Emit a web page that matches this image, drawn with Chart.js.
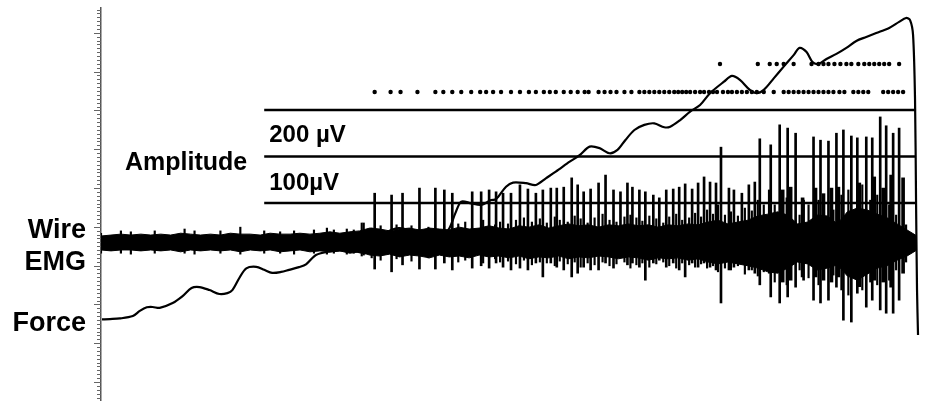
<!DOCTYPE html>
<html><head><meta charset="utf-8">
<script src="https://cdn.jsdelivr.net/npm/chart.js@4"></script>
<style>html,body{margin:0;padding:0;background:#fff}#wrap{position:relative;width:927px;height:407px}</style>
</head><body><div id="wrap"><canvas id="c" width="927" height="407"></canvas></div>
<script>
// ---- DATA (time in s, EMG in µV, force in %MVC) ----
const noiseTimes = [0.0,0.1,0.2,0.3,0.4,0.5,0.6,0.7,0.8,0.9,1.0,1.1,1.2,1.3,1.4,1.5,1.6,1.7,1.8,1.9,2.0,2.1,2.2,2.3,2.4,2.5,2.6,2.7,2.8,2.9,3.0,3.1,3.2,3.3,3.4,3.5,3.6,3.7,3.8,3.9,4.0,4.1,4.2,4.3,4.4,4.5,4.6,4.7,4.8,4.9,5.0,5.1,5.2,5.3,5.4,5.5,5.6,5.7,5.8,5.9,6.0,6.1,6.2,6.3,6.4,6.5,6.6,6.7,6.8,6.9,7.0,7.1,7.2,7.3,7.4,7.5,7.6,7.7,7.8,7.9,8.0,8.1,8.2];
const noiseTop = [29,31,33,31,33,31,33,31,35,33,31,33,31,35,33,33,31,35,33,33,35,33,35,38,35,38,40,46,44,40,44,46,42,46,44,42,48,44,46,51,46,44,51,48,53,46,51,55,51,53,48,53,51,55,51,53,48,53,51,55,53,59,63,55,59,63,72,76,81,74,55,59,74,72,55,81,89,85,76,68,55,42,29];
const noiseBottom = [-1,-3,-1,-1,-3,-1,-3,-1,-5,-1,-3,-1,-3,-1,-5,-1,-3,-1,-5,-3,-1,-5,-3,-5,-3,-8,-5,-12,-14,-10,-16,-12,-14,-18,-12,-16,-14,-18,-12,-16,-14,-18,-14,-20,-16,-18,-14,-20,-16,-18,-14,-16,-20,-16,-18,-23,-18,-20,-18,-23,-20,-27,-31,-27,-31,-35,-40,-48,-51,-40,-27,-31,-44,-40,-33,-57,-66,-53,-40,-35,-23,-14,-1];

// small background noise spikes (early, low force)
const smallTimes = [0.00,0.20,0.30,0.54,0.84,0.94,1.20,1.40,1.64,1.80,1.94,2.14,2.27,2.34,2.47,2.54,2.64];
const smallLow = [-8,-8,-10,-8,-8,-10,-8,-10,-8,-8,-10,-8,-10,-8,-10,-8,-12];
const smallHigh = [35,40,38,40,44,40,40,48,40,38,40,42,46,42,44,42,57];

// interference spikes (mid and late)
const texTimes = [2.62,2.72,2.81,2.97,3.12,3.29,3.59,3.66,3.84,3.96,4.01,4.09,4.17,4.25,4.33,4.41,4.48,4.56,4.61,4.69,4.76,4.82,4.89,4.96,5.04,5.11,5.18,5.26,5.32,5.38,5.44,5.51,5.58,5.65,5.71,5.78,5.84,5.91,5.97,6.03,6.09,6.15,6.20,6.27,6.33,6.40,6.47,6.54,6.60,6.66,6.77,6.89,7.02,7.11,7.21,7.36,7.44,7.51,7.65,7.73,7.80,7.92,7.99,8.09];
const texLow = [-14,-18,-23,-20,-25,-18,-27,-23,-29,-20,-27,-25,-31,-23,-33,-27,-29,-35,-25,-31,-27,-38,-29,-33,-27,-35,-31,-27,-40,-33,-29,-38,-31,-27,-35,-40,-29,-33,-38,-31,-40,-35,-48,-40,-44,-35,-53,-44,-57,-48,-70,-76,-44,-61,-76,-55,-87,-98,-87,-70,-76,-66,-44,-27];
const texHigh = [57,46,51,53,51,48,55,59,63,53,59,55,63,68,59,66,57,70,63,59,72,66,57,68,76,63,59,70,74,68,61,72,66,57,70,76,63,68,78,70,85,76,96,74,81,72,89,83,106,96,96,111,74,96,106,85,117,128,139,106,117,96,74,53];

// single motor-unit spikes: [time, low µV, high µV]
const spikeTimes = [2.75,2.92,3.03,3.20,3.36,3.45,3.53,3.73,3.82,3.90,3.97,4.04,4.12,4.21,4.29,4.37,4.44,4.52,4.58,4.65,4.73,4.79,4.85,4.92,5.00,5.07,5.15,5.22,5.29,5.34,5.41,5.47,5.55,5.61,5.68,5.75,5.81,5.87,5.94,6.00,6.06,6.12,6.18,6.23,6.31,6.36,6.44,6.51,6.57,6.62,6.73,6.82,6.90,6.98,7.06,7.16,7.23,7.31,7.39,7.46,7.54,7.60,7.69,7.75,7.83,7.89,7.96,8.02];
const spikeLow = [-42,-48,-33,-42,-42,-29,-44,-40,-35,-40,-29,-38,-44,-40,-44,-29,-59,-29,-38,-44,-59,-51,-38,-44,-44,-29,-40,-16,-33,-29,-38,-66,-29,-23,-38,-29,-44,-59,-29,-38,-29,-38,-44,-115,-44,-38,-29,-44,-51,-76,-102,-115,-102,-81,-66,-109,-115,-109,-81,-152,-156,-94,-124,-109,-130,-137,-137,-109];
const spikeHigh = [121,117,121,132,132,128,121,124,124,128,124,121,121,139,130,121,128,132,132,134,154,139,124,130,143,160,128,124,143,134,128,124,117,111,128,130,134,141,130,143,156,145,143,220,132,128,121,139,145,238,225,268,261,250,106,242,235,233,250,257,244,240,242,240,285,266,250,261];

// burst spikes late in the contraction
const burstTimes = [6.72,6.85,6.93,7.05,7.18,7.26,7.34,7.41,7.62,7.77,7.86,7.94,8.06];
const burstLow = [-51,-70,-66,-59,-59,-66,-70,-59,-80,-66,-70,-81,-51];
const burstHigh = [128,128,134,111,132,120,132,134,143,156,132,160,154];

// force
const forceTimes = [0.01,0.09,0.19,0.32,0.39,0.46,0.52,0.59,0.72,0.82,0.91,0.99,1.09,1.19,1.27,1.32,1.39,1.46,1.56,1.64,1.72,1.81,1.89,1.99,2.06,2.16,2.29,2.49,2.66,2.75,2.86,2.99,3.09,3.26,3.42,3.49,3.56,3.62,3.72,3.82,3.92,3.97,4.07,4.14,4.27,4.37,4.47,4.57,4.71,4.81,4.91,5.01,5.11,5.19,5.27,5.36,5.46,5.56,5.66,5.72,5.82,5.92,6.02,6.12,6.26,6.34,6.42,6.52,6.59,6.66,6.76,6.86,6.96,7.02,7.09,7.15,7.21,7.29,7.39,7.49,7.59,7.69,7.79,7.92,8.02,8.09,8.13,8.16,8.18,8.19,8.20,8.21];
const forceValues = [0.2,0.3,0.5,1.3,3.0,4.2,4.3,4.0,5.6,7.9,10.6,10.9,9.9,8.6,8.9,9.9,13.9,17.1,17.6,16.6,15.6,15.9,16.6,17.5,18.4,21.5,22.6,23.2,22.1,23.8,28.7,30.4,29.8,28.9,29.2,29.8,35.3,39.2,38.6,38.1,39.7,40.0,44.1,45.5,45.3,44.7,46.9,49.1,52.4,54.6,57.4,56.9,55.2,56.3,59.6,62.9,64.6,65.1,63.8,64.0,66.2,69.0,71.2,75.1,78.9,80.8,79.5,76.2,75.1,76.2,80.0,83.9,87.7,90.1,88.7,85.4,84.8,86.4,88.1,90.1,92.4,93.7,95.0,96.7,98.7,100.0,99.3,94.4,72.8,39.7,9.9,-5.0];

// motor unit firing instants
const mu1Times = [2.75,2.91,3.01,3.18,3.36,3.44,3.53,3.62,3.72,3.81,3.87,3.94,4.02,4.12,4.21,4.30,4.37,4.45,4.51,4.57,4.65,4.72,4.79,4.86,4.90,5.00,5.06,5.12,5.18,5.26,5.33,5.41,5.46,5.51,5.56,5.61,5.66,5.71,5.76,5.80,5.84,5.88,5.92,5.97,6.02,6.06,6.11,6.15,6.19,6.25,6.30,6.34,6.39,6.44,6.49,6.54,6.59,6.66,6.76,6.86,6.91,6.96,7.01,7.06,7.11,7.16,7.21,7.26,7.31,7.36,7.42,7.47,7.56,7.61,7.66,7.71,7.86,7.91,7.96,8.01,8.06];
const mu2Times = [6.22,6.60,6.72,6.79,6.86,6.96,7.14,7.21,7.26,7.31,7.37,7.43,7.49,7.54,7.61,7.67,7.72,7.77,7.82,7.87,7.92,8.02];

// amplitude reference levels (µV) and their time span
const ampLevels = [100,200,300];
const ampSpan = [1.64,8.19];
const ampLabels = ['100µV','200 µV'];

// ---- build ----
const band = (t, v) => t.map((x,i)=>({x, y:v[i]}));
const bars = (t, lo, hi) => t.map((x,i)=>({x, y:[lo[i],hi[i]]}));

const datasets = [
  {type:'line', data:band(noiseTimes,noiseTop), yAxisID:'emg', borderColor:'#000', borderWidth:1, backgroundColor:'#000', fill:'+1', pointRadius:0, tension:0, order:5},
  {type:'line', data:band(noiseTimes,noiseBottom), yAxisID:'emg', borderColor:'#000', borderWidth:1, pointRadius:0, tension:0, fill:false, order:5},
  {type:'bar', data:bars(smallTimes,smallLow,smallHigh), yAxisID:'emg', backgroundColor:'#000', barThickness:1.5, grouped:false, order:4},
  {type:'bar', data:bars(texTimes,texLow,texHigh), yAxisID:'emg', backgroundColor:'#000', barThickness:1.5, grouped:false, order:4},
  {type:'bar', data:bars(spikeTimes,spikeLow,spikeHigh), yAxisID:'emg', backgroundColor:'#000', barThickness:2, grouped:false, order:4},
  {type:'bar', data:bars(burstTimes,burstLow,burstHigh), yAxisID:'emg', backgroundColor:'#000', barThickness:3, grouped:false, order:4},
];
ampLevels.forEach(l => datasets.push({type:'line', data:ampSpan.map(x=>({x,y:l})), yAxisID:'emg', borderColor:'#000', borderWidth:2.5, pointRadius:0, order:3}));
datasets.push({type:'line', data:band(forceTimes,forceValues), yAxisID:'force', borderColor:'#000', borderWidth:2.2, pointRadius:0, tension:0.3, fill:false, order:1});
datasets.push({type:'scatter', data:mu1Times.map(x=>({x,y:1})), yAxisID:'mu', pointRadius:2.2, backgroundColor:'#000', borderWidth:0, order:2});
datasets.push({type:'scatter', data:mu2Times.map(x=>({x,y:2})), yAxisID:'mu', pointRadius:2.2, backgroundColor:'#000', borderWidth:0, order:2});

const ticksPlugin = {
  id:'ticks',
  afterDraw(chart){
    const s = chart.scales.y, ctx = chart.ctx, x0 = chart.chartArea.left;
    ctx.save(); ctx.strokeStyle = '#666'; ctx.lineWidth = 1;
    for (let v = Math.ceil(s.min); v <= Math.floor(s.max); v++) {
      const y = Math.round(s.getPixelForValue(v)) + 0.5;
      const len = (v % 10 === 0) ? 7 : 4;
      ctx.beginPath(); ctx.moveTo(x0 - len, y); ctx.lineTo(x0, y); ctx.stroke();
    }
    ctx.restore();
  }
};
const textPlugin = {
  id:'texts',
  afterDraw(chart){
    const ctx = chart.ctx, e = chart.scales.emg;
    ctx.save(); ctx.fillStyle = '#000'; ctx.textBaseline = 'alphabetic';
    ctx.font = 'bold 27px "Liberation Sans", Arial, sans-serif';
    ctx.textAlign = 'right';
    ctx.fillText('Wire', 86, 238);
    ctx.fillText('EMG', 86, 270);
    ctx.fillText('Force', 86, 331);
    ctx.textAlign = 'left';
    ctx.font = 'bold 25px "Liberation Sans", Arial, sans-serif';
    ctx.fillText('Amplitude', 125, 170);
    ctx.font = 'bold 24px "Liberation Sans", Arial, sans-serif';
    const xl = chart.scales.x.getPixelForValue(ampSpan[0]) + 5;
    ctx.fillText(ampLabels[1], xl, e.getPixelForValue(ampLevels[1]) - 14);
    ctx.fillText(ampLabels[0], xl, e.getPixelForValue(ampLevels[0]) - 13);
    ctx.restore();
  }
};

new Chart(document.getElementById('c'), {
  type:'bar',
  data:{datasets},
  options:{
    responsive:false, animation:false, events:[],
    layout:{padding:{top:8,bottom:7,left:0,right:0}},
    plugins:{legend:{display:false}, tooltip:{enabled:false}},
    scales:{
      x:{type:'linear', min:0, max:8.26, display:false, offset:false},
      y:{type:'linear', position:'left', min:-4.64, max:96.39, grid:{display:false, drawTicks:false}, ticks:{display:false},
         border:{display:true, color:'#555', width:1.5}, afterFit(s){ s.width = 101; }},
      emg:{type:'linear', display:false, min:-323.6, max:519.2},
      force:{type:'linear', display:false, min:-26.5, max:103.3},
      mu:{type:'linear', display:false, min:-10, max:4}
    }
  },
  plugins:[ticksPlugin, textPlugin]
});
</script></body></html>
